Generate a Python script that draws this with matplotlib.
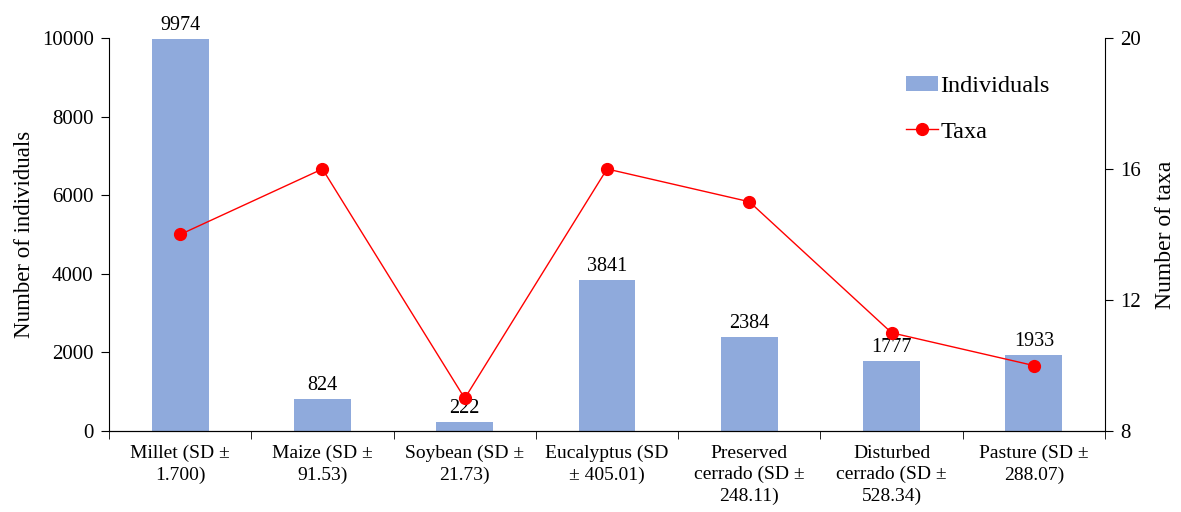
import matplotlib
matplotlib.use("Agg")
import matplotlib.pyplot as plt
import numpy as np

categories = ["Millet (SD \u00b1\n1.700)", "Maize (SD \u00b1\n91.53)", "Soybean (SD \u00b1\n21.73)",
              "Eucalyptus (SD\n\u00b1 405.01)", "Preserved\ncerrado (SD \u00b1\n248.11)",
              "Disturbed\ncerrado (SD \u00b1\n528.34)", "Pasture (SD \u00b1\n288.07)"]
individuals = [9974, 824, 222, 3841, 2384, 1777, 1933]
taxa = [14, 16, 9, 16, 15, 11, 10]
left_ticks = [0, 2000, 4000, 6000, 8000, 10000]
right_ticks = [8, 12, 16, 20]

plt.rcParams['font.family'] = ['Liberation Serif', 'DejaVu Serif']
fig = plt.figure(figsize=(11.81, 5.12), dpi=100)
ax = fig.add_axes([0.0923, 0.158, 0.8434, 0.768])
x = np.arange(len(categories))
bars = ax.bar(x, individuals, width=0.4, color='#8FAADC', label='Individuals', zorder=2)
for xi, v in zip(x, individuals):
    ax.text(xi, v + 100, str(v), ha='center', va='bottom', fontsize=14.5)
ax.set_xlim(-0.5, len(categories) - 0.5)
ax.set_ylim(0, 10000)
ax.set_yticks(left_ticks)
ax.set_xticks(x)
ax.set_xticklabels(categories, fontsize=14, linespacing=1.3)
ax.set_xticks(np.arange(-0.5, len(categories)), minor=True)
ax.tick_params(axis='x', which='major', length=0, pad=10)
ax.tick_params(axis='x', which='minor', length=6, direction='out')
ax.tick_params(axis='y', labelsize=15, length=6, direction='out', pad=5)
ax.set_ylabel('Number of individuals', fontsize=16.5, labelpad=5)
ax.spines['top'].set_visible(False)
ax.spines['right'].set_visible(False)

ax2 = ax.twinx()
line, = ax2.plot(x, taxa, color='#FF0000', marker='o', markersize=8.5, linewidth=1, label='Taxa', zorder=3)
ax2.set_ylim(8, 20)
ax2.set_yticks(right_ticks)
ax2.tick_params(axis='y', labelsize=15, length=6, direction='out', pad=5)
ax2.set_ylabel('Number of taxa', fontsize=17, labelpad=10)
ax2.spines['top'].set_visible(False)
ax2.spines['left'].set_visible(False)

fig.legend([bars, line], ['Individuals', 'Taxa'], loc='upper left', bbox_to_anchor=(0.749, 0.895),
           frameon=False, fontsize=17.5, labelspacing=1.0, handlelength=1.3, handleheight=0.6,
           handletextpad=0.1)
fig.savefig('out.png', dpi=100)
